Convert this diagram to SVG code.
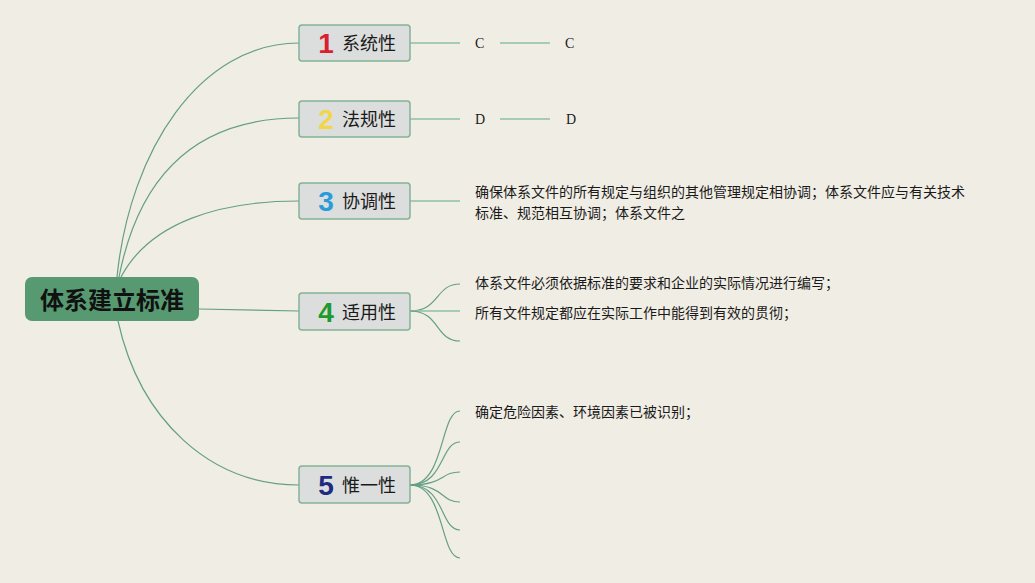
<svg xmlns="http://www.w3.org/2000/svg" width="1035" height="583" viewBox="0 0 1035 583">
<style>
.bg{fill:#f0ede4}
.node rect{fill:#dcdedd;stroke:#82b296;stroke-width:1.5}
.lbl{font-family:"Noto Sans CJK SC","Noto Sans",sans-serif;font-size:18px;fill:#1a1a1a}
.num{font-family:"Liberation Sans","Noto Sans",sans-serif;font-size:28px;font-weight:bold}
.txt{font-family:"Noto Sans CJK SC","Noto Sans",sans-serif;font-size:14px;fill:#1a1a1a}
.ser{font-family:"Liberation Serif",serif;font-size:14px;fill:#1a1a1a}
.c path,.c line{fill:none;stroke:#649f84;stroke-width:1.2}
.c .s{stroke:#8fc0a6;stroke-width:1.5}
</style>
<rect class="bg" x="0" y="0" width="1035" height="583"/>
<g class="c" id="connectors">
<path d="M117 277 C130 150,200 43,299 43"/>
<path d="M119 277 C140 170,200 118,299 118"/>
<path d="M121 277 C150 222,220 201,299 201"/>
<path d="M199 309 L299 311"/>
<path d="M118 321 C140 420,210 485,299 485"/>
<line class="s" x1="410" y1="43" x2="460" y2="43"/>
<line class="s" x1="500" y1="43" x2="550" y2="43"/>
<line class="s" x1="410" y1="119" x2="460" y2="119"/>
<line class="s" x1="500" y1="119" x2="550" y2="119"/>
<line class="s" x1="410" y1="201" x2="460" y2="201"/>
<path d="M410 311 C440 311,435 284,460 284"/>
<path class="s" d="M410 311 L460 311"/>
<path d="M410 311 C440 311,435 341,460 341"/>
<path d="M410 485 C445 485,440 411,460 411"/>
<path d="M410 485 C445 485,440 442,460 442"/>
<path d="M410 485 C445 485,440 472,460 472"/>
<path d="M410 485 C445 485,440 502,460 502"/>
<path d="M410 485 C445 485,440 530,460 530"/>
<path d="M410 485 C445 485,440 558,460 558"/>
</g>
<g id="root">
<rect x="25" y="277" width="174" height="44" rx="7" fill="#579a71"/>
<text x="112" y="309" text-anchor="middle" font-family="Noto Sans CJK SC,sans-serif" font-size="24" font-weight="bold" fill="#111">体系建立标准</text>
</g>
<g id="n1" class="node">
<rect x="299" y="25" width="111" height="36" rx="3"/>
<text class="num" x="326" y="53" text-anchor="middle" fill="#d91f30">1</text>
<text class="lbl" x="342" y="50">系统性</text>
</g>
<g id="n2" class="node">
<rect x="299" y="101" width="111" height="36" rx="3"/>
<text class="num" x="326" y="129" text-anchor="middle" fill="#f0d64c">2</text>
<text class="lbl" x="342" y="126">法规性</text>
</g>
<g id="n3" class="node">
<rect x="299" y="183" width="111" height="36" rx="3"/>
<text class="num" x="326" y="211" text-anchor="middle" fill="#2b9bd9">3</text>
<text class="lbl" x="342" y="208">协调性</text>
</g>
<g id="n4" class="node">
<rect x="299" y="293" width="111" height="37" rx="3"/>
<text class="num" x="326" y="322" text-anchor="middle" fill="#1e9a2f">4</text>
<text class="lbl" x="342" y="319">适用性</text>
</g>
<g id="n5" class="node">
<rect x="299" y="466" width="111" height="37" rx="3"/>
<text class="num" x="326" y="495" text-anchor="middle" fill="#1d2b80">5</text>
<text class="lbl" x="342" y="492">惟一性</text>
</g>
<g id="leaves">
<text class="ser" x="475" y="48">C</text>
<text class="ser" x="565" y="48">C</text>
<text class="ser" x="475" y="124">D</text>
<text class="ser" x="566" y="124">D</text>
<text class="txt" x="475" y="197">确保体系文件的所有规定与组织的其他管理规定相协调；体系文件应与有关技术</text>
<text class="txt" x="475" y="218">标准、规范相互协调；体系文件之</text>
<text class="txt" x="475" y="288">体系文件必须依据标准的要求和企业的实际情况进行编写；</text>
<text class="txt" x="475" y="318">所有文件规定都应在实际工作中能得到有效的贯彻；</text>
<text class="txt" x="475" y="417">确定危险因素、环境因素已被识别；</text>
</g>
</svg>
